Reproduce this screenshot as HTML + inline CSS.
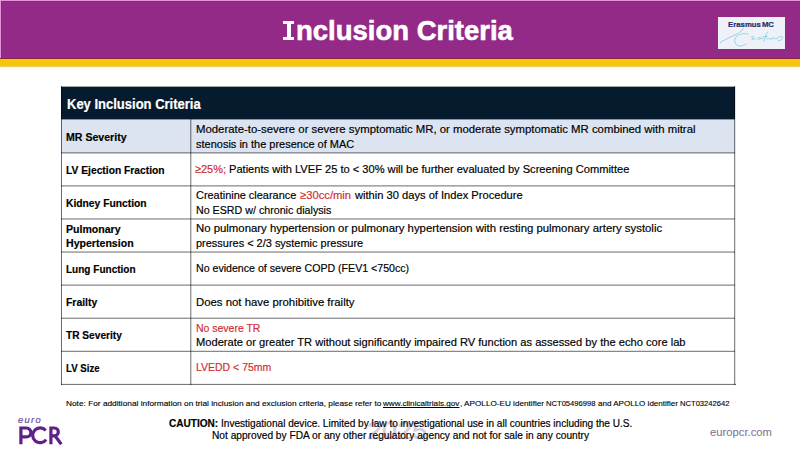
<!DOCTYPE html>
<html><head><meta charset="utf-8">
<style>
html,body{margin:0;padding:0;}
body{width:800px;height:450px;position:relative;overflow:hidden;background:#fff;font-family:"Liberation Sans", sans-serif;}
.t{position:absolute;white-space:pre;transform-origin:0 0;}
.b{-webkit-text-stroke:0.18px currentColor;}
.bx{position:absolute;}
</style></head><body>
<!-- header band -->
<div class="bx" style="left:0;top:0;width:800px;height:58px;background:#942a88;"></div>
<div class="bx" style="left:0;top:0;width:800px;height:1px;background:#e294d9;"></div>
<div class="bx" style="left:0;top:1px;width:800px;height:1px;background:#86297d;"></div>
<div class="bx" style="left:0;top:0;width:1px;height:58px;background:#e294d9;"></div>
<div class="bx" style="left:1px;top:1px;width:1px;height:57px;background:#86297d;"></div>
<div class="bx" style="left:0;top:58px;width:800px;height:1px;background:#8b2a3e;"></div>
<div class="bx" style="left:0;top:59px;width:800px;height:1px;background:#f7b262;"></div>
<div class="bx" style="left:0;top:60px;width:800px;height:6px;background:#f5c60d;"></div>
<div class="bx" style="left:0;top:66px;width:800px;height:1px;background:#ecd05a;"></div>
<div class="bx" style="left:0;top:67px;width:800px;height:1px;background:#fffbe2;"></div>
<!-- title I -->
<div class="bx" style="left:283.4px;top:20.7px;width:10.9px;height:3px;background:#fff;"></div>
<div class="bx" style="left:286.6px;top:20.7px;width:4.5px;height:19.3px;background:#fff;"></div>
<div class="bx" style="left:283.4px;top:37px;width:10.9px;height:3px;background:#fff;"></div>
<!-- erasmus logo -->
<div class="bx" style="left:718px;top:17px;width:67px;height:32px;background:#eff1f8;"></div>
<svg class="bx" style="left:0;top:0" width="800" height="60" viewBox="0 0 800 60">
 <g fill="none" stroke="#8dcfe0" stroke-width="0.9" stroke-linecap="round" stroke-linejoin="round">
  <path d="M720.3,43.3 C719.8,42.6 720.6,41.8 722,41.3 C726,39.5 731,36.5 736,34.5 C739,33 741.5,31 743.5,28.5"/>
  <path d="M748,34 C745,33.2 740,33.5 737,36 C733.5,39 734,44.5 738.5,45.8 C741.5,46.5 744.5,45.2 746,44"/>
  <path d="M751,37 C752.5,36 754.5,36.2 753.5,37.5 L751.8,39.3 C753,38.8 754.5,39 755.5,38.8"/>
  <path d="M760,37.5 C758.5,37 757,38.5 758,39.5 C759,40 760.2,39 760.2,37.5 C760.5,39 761.5,39.5 763,38.8"/>
  <path d="M767.5,32 C766,34 765,37.5 764,41.5 M762.5,37 L767.5,36.3"/>
  <path d="M766,37.8 C766.5,39.5 768,39.5 769,38 C769.5,39.5 770.5,39.5 771.5,38 M772,39.5 C772.5,37.5 774,37 775,38.5 C775.5,39.5 776.5,39.5 777,38 M777.5,38 C779,36.5 782,35.5 782.5,37 C783,39 781,41 778.5,40.5"/>
 </g>
</svg>
<!-- table -->
<div class="bx" style="left:61px;top:86px;width:674px;height:1px;background:#a2a8ae;"></div>
<div class="bx" style="left:61px;top:87px;width:674px;height:32px;background:#071b2f;"></div>
<div class="bx" style="left:61px;top:119px;width:674px;height:1px;background:#8a96a6;"></div>
<div class="bx" style="left:61px;top:120px;width:674px;height:33px;background:#dce4f1;"></div>
<div class="bx" style="left:61px;top:86px;width:1px;height:299px;background:#000;opacity:0.584;"></div>
<div class="bx" style="left:734px;top:86px;width:1px;height:299px;background:#000;opacity:0.467;"></div>
<div class="bx" style="left:735px;top:86px;width:1px;height:299px;background:#000;opacity:0.117;"></div>
<div class="bx" style="left:190px;top:119px;width:1px;height:266px;background:#000;opacity:0.409;"></div>
<div class="bx" style="left:191px;top:119px;width:1px;height:266px;background:#000;opacity:0.175;"></div>
<div class="bx" style="left:61px;top:152px;width:674px;height:1px;background:#000;opacity:0.351;"></div>
<div class="bx" style="left:61px;top:153px;width:674px;height:1px;background:#000;opacity:0.234;"></div>
<div class="bx" style="left:61px;top:185px;width:674px;height:1px;background:#000;opacity:0.351;"></div>
<div class="bx" style="left:61px;top:186px;width:674px;height:1px;background:#000;opacity:0.234;"></div>
<div class="bx" style="left:61px;top:218px;width:674px;height:1px;background:#000;opacity:0.310;"></div>
<div class="bx" style="left:61px;top:219px;width:674px;height:1px;background:#000;opacity:0.275;"></div>
<div class="bx" style="left:61px;top:251px;width:674px;height:1px;background:#000;opacity:0.269;"></div>
<div class="bx" style="left:61px;top:252px;width:674px;height:1px;background:#000;opacity:0.316;"></div>
<div class="bx" style="left:61px;top:284px;width:674px;height:1px;background:#000;opacity:0.234;"></div>
<div class="bx" style="left:61px;top:285px;width:674px;height:1px;background:#000;opacity:0.351;"></div>
<div class="bx" style="left:61px;top:317px;width:674px;height:1px;background:#000;opacity:0.175;"></div>
<div class="bx" style="left:61px;top:318px;width:674px;height:1px;background:#000;opacity:0.409;"></div>
<div class="bx" style="left:61px;top:350px;width:674px;height:1px;background:#000;opacity:0.117;"></div>
<div class="bx" style="left:61px;top:351px;width:674px;height:1px;background:#000;opacity:0.467;"></div>
<div class="bx" style="left:61px;top:383px;width:675px;height:1px;background:#000;opacity:0.058;"></div>
<div class="bx" style="left:61px;top:384px;width:675px;height:1px;background:#000;opacity:0.526;"></div>
<!-- watermark -->
<div class="t" style="left:367px;top:420px;font-size:23.5px;line-height:23.5px;font-weight:400;-webkit-text-stroke:0.5px #d6cce3;color:#d6cce3;transform:scaleX(1.15);">2025</div>
<!-- PCR logo -->
<svg class="bx" style="left:0;top:400px" width="80" height="50" viewBox="0 400 80 50">
 <g fill="none" stroke="#5f2188" stroke-width="3.2">
  <path d="M20.9,444.2 V428 H26.5 A4.4,4.4 0 0 1 26.5,436.8 H20.9"/>
  <path d="M45.7,430.5 A7.4,7.4 0 1 0 46.1,439.6"/>
  <path d="M50.9,444.2 V428 H54.4 A3.9,3.9 0 0 1 54.4,435.8 H50.9 M55,435.8 L61.3,444.2"/>
 </g>
</svg>
<div class="t " style="left:296.30px;top:17.40px;font-size:28px;line-height:28px;font-weight:700;color:#fff;transform:scaleX(0.9817);-webkit-text-stroke:0.6px #fff;">nclusion Criteria</div>
<div class="t " style="left:728.00px;top:20.81px;font-size:7.9px;line-height:7.9px;font-weight:700;color:#252d6a;transform:scaleX(0.9866);-webkit-text-stroke:0.2px #252d6a;">Erasmus<span style="letter-spacing:-1.2px"> </span>MC</div>
<div class="t " style="left:66.90px;top:95.95px;font-size:15px;line-height:15px;font-weight:700;color:#fff;transform:scaleX(0.8670);-webkit-text-stroke:0.2px #fff;">Key Inclusion Criteria</div>
<div class="t b" style="left:66.40px;top:131.99px;font-size:11px;line-height:11px;font-weight:700;color:#000;transform:scaleX(0.9621);">MR Severity</div>
<div class="t b" style="left:66.40px;top:164.99px;font-size:11px;line-height:11px;font-weight:700;color:#000;transform:scaleX(0.9343);">LV Ejection Fraction</div>
<div class="t b" style="left:66.40px;top:198.39px;font-size:11px;line-height:11px;font-weight:700;color:#000;transform:scaleX(0.9353);">Kidney Function</div>
<div class="t b" style="left:66.40px;top:223.79px;font-size:11px;line-height:11px;font-weight:700;color:#000;transform:scaleX(0.9603);">Pulmonary</div>
<div class="t b" style="left:66.40px;top:238.39px;font-size:11px;line-height:11px;font-weight:700;color:#000;transform:scaleX(0.9616);">Hypertension</div>
<div class="t b" style="left:66.40px;top:264.39px;font-size:11px;line-height:11px;font-weight:700;color:#000;transform:scaleX(0.9113);">Lung Function</div>
<div class="t b" style="left:66.40px;top:296.99px;font-size:11px;line-height:11px;font-weight:700;color:#000;transform:scaleX(0.9450);">Frailty</div>
<div class="t b" style="left:66.40px;top:330.39px;font-size:11px;line-height:11px;font-weight:700;color:#000;transform:scaleX(0.9218);">TR Severity</div>
<div class="t b" style="left:66.40px;top:363.29px;font-size:11px;line-height:11px;font-weight:700;color:#000;transform:scaleX(0.8770);">LV Size</div>
<div class="t b" style="left:195.50px;top:124.08px;font-size:11.36px;line-height:11.36px;font-weight:400;color:#000;transform:scaleX(1.0003);">Moderate-to-severe or severe symptomatic MR, or moderate symptomatic MR combined with mitral</div>
<div class="t b" style="left:195.50px;top:138.58px;font-size:11.36px;line-height:11.36px;font-weight:400;color:#000;transform:scaleX(0.9677);">stenosis in the presence of MAC</div>
<div class="t b" style="left:195.50px;top:204.98px;font-size:11.36px;line-height:11.36px;font-weight:400;color:#000;transform:scaleX(0.9400);">No ESRD w/ chronic dialysis</div>
<div class="t b" style="left:195.50px;top:223.38px;font-size:11.36px;line-height:11.36px;font-weight:400;color:#000;transform:scaleX(1.0003);">No pulmonary hypertension or pulmonary hypertension with resting pulmonary artery systolic</div>
<div class="t b" style="left:195.50px;top:237.58px;font-size:11.36px;line-height:11.36px;font-weight:400;color:#000;transform:scaleX(0.9647);">pressures &lt; 2/3 systemic pressure</div>
<div class="t b" style="left:195.50px;top:263.38px;font-size:11.36px;line-height:11.36px;font-weight:400;color:#000;transform:scaleX(0.9336);">No evidence of severe COPD (FEV1 &lt;750cc)</div>
<div class="t b" style="left:195.50px;top:296.58px;font-size:11.36px;line-height:11.36px;font-weight:400;color:#000;transform:scaleX(1.0001);">Does not have prohibitive frailty</div>
<div class="t b" style="left:195.50px;top:322.58px;font-size:11.36px;line-height:11.36px;font-weight:400;color:#000;transform:scaleX(0.9216);"><span style="color:#d02d2e">No severe TR</span></div>
<div class="t b" style="left:195.50px;top:336.58px;font-size:11.36px;line-height:11.36px;font-weight:400;color:#000;transform:scaleX(0.9797);">Moderate or greater TR without significantly impaired RV function as assessed by the echo core lab</div>
<div class="t b" style="left:195.50px;top:362.08px;font-size:11.36px;line-height:11.36px;font-weight:400;color:#000;transform:scaleX(0.9234);"><span style="color:#d02d2e">LVEDD &lt; 75mm</span></div>
<div class="t b" style="left:195.00px;top:164.48px;font-size:11.36px;line-height:11.36px;font-weight:400;color:#d02d2e;transform:scaleX(0.9645);">≥25%;</div>
<div class="t b" style="left:228.90px;top:164.48px;font-size:11.36px;line-height:11.36px;font-weight:400;color:#000;transform:scaleX(0.9768);">Patients with LVEF 25 to &lt; 30% will be further evaluated by Screening Committee</div>
<div class="t b" style="left:195.50px;top:190.38px;font-size:11.36px;line-height:11.36px;font-weight:400;color:#000;transform:scaleX(0.9622);">Creatinine clearance</div>
<div class="t b" style="left:300.00px;top:190.38px;font-size:11.36px;line-height:11.36px;font-weight:400;color:#d02d2e;transform:scaleX(0.9883);">≥30cc/min</div>
<div class="t b" style="left:354.80px;top:190.38px;font-size:11.36px;line-height:11.36px;font-weight:400;color:#000;transform:scaleX(0.9800);">within 30 days of Index Procedure</div>
<div class="t " style="left:66.25px;top:400.23px;font-size:8px;line-height:8px;font-weight:400;color:#000;transform:scaleX(1.0368);-webkit-text-stroke:0.12px #000;">Note: For additional information on trial inclusion and exclusion criteria, please refer to</div>
<div class="t " style="left:383.10px;top:400.23px;font-size:8px;line-height:8px;font-weight:400;color:#000;transform:scaleX(1.0168);-webkit-text-stroke:0.12px #000;"><u>www.clinicaltrials.gov</u></div>
<div class="t " style="left:459.50px;top:400.23px;font-size:8px;line-height:8px;font-weight:400;color:#000;transform:scaleX(1.0211);-webkit-text-stroke:0.12px #000;">, APOLLO-EU identifier</div>
<div class="t " style="left:546.00px;top:400.23px;font-size:8px;line-height:8px;font-weight:400;color:#000;transform:scaleX(0.9511);-webkit-text-stroke:0.12px #000;">NCT05496998</div>
<div class="t " style="left:597.50px;top:400.23px;font-size:8px;line-height:8px;font-weight:400;color:#000;transform:scaleX(1.0049);-webkit-text-stroke:0.12px #000;">and APOLLO identifier</div>
<div class="t " style="left:680.00px;top:400.23px;font-size:8px;line-height:8px;font-weight:400;color:#000;transform:scaleX(0.9511);-webkit-text-stroke:0.12px #000;">NCT03242642</div>
<div class="t b" style="left:168.75px;top:418.99px;font-size:10px;line-height:10px;font-weight:400;color:#000;transform:scaleX(1.0066);"><b>CAUTION:</b> Investigational device. Limited by law to investigational use in all countries including the U.S.</div>
<div class="t b" style="left:211.75px;top:431.49px;font-size:10px;line-height:10px;font-weight:400;color:#000;transform:scaleX(1.0168);">Not approved by FDA or any other regulatory agency and not for sale in any country</div>
<div class="t " style="left:710.10px;top:427.26px;font-size:11.8px;line-height:11.8px;font-weight:400;color:#806a96;transform:scaleX(0.9535);">europcr.com</div>
<div class="t " style="left:18.40px;top:415.98px;font-size:9.0px;line-height:9.0px;font-weight:400;color:#6f4d93;transform:scaleX(1.0336);font-style:italic;letter-spacing:1.3px;-webkit-text-stroke:0.2px #6f4d93;">euro</div>
</body></html>
